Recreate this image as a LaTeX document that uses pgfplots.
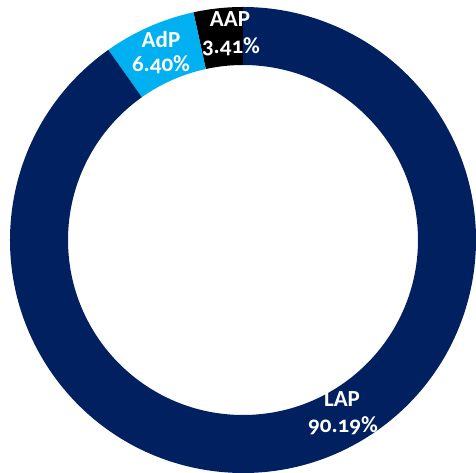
\documentclass[border=0pt]{standalone}
\usepackage{fontspec}
\setmainfont{Carlito}[Numbers=OldStyle]
\usepackage{pgfplots}
\pgfplotsset{compat=1.18}
\definecolor{navy}{HTML}{002060}
\definecolor{lblue}{HTML}{00B0F0}
\begin{document}
\begin{tikzpicture}
\begin{axis}[
  x=1pt, y=1pt, scale only axis,
  xmin=-243, xmax=233, ymin=-233, ymax=240,
  hide axis, clip=false,
]
% values (percent), drawn counter-clockwise from 12 o'clock
\pgfmathsetmacro{\vAAP}{3.41}
\pgfmathsetmacro{\vAdP}{6.40}
\pgfmathsetmacro{\vLAP}{90.19}
\pgfmathsetmacro{\aA}{90}
\pgfmathsetmacro{\aB}{\aA+3.6*\vAAP}
\pgfmathsetmacro{\aC}{\aB+3.6*\vAdP}
\pgfmathsetmacro{\aD}{\aC+3.6*\vLAP}
\def\Ro{233pt}\def\Ri{175pt}
\fill[black, shift={(axis cs:0,0)}] (\aA:\Ro) arc[start angle=\aA, end angle=\aB, radius=\Ro] -- (\aB:\Ri) arc[start angle=\aB, end angle=\aA, radius=\Ri] -- cycle;
\fill[lblue, shift={(axis cs:0,0)}] (\aB:\Ro) arc[start angle=\aB, end angle=\aC, radius=\Ro] -- (\aC:\Ri) arc[start angle=\aC, end angle=\aB, radius=\Ri] -- cycle;
\fill[navy, shift={(axis cs:0,0)}] (\aC:\Ro) arc[start angle=\aC, end angle=\aD, radius=\Ro] -- (\aD:\Ri) arc[start angle=\aD, end angle=\aC, radius=\Ri] -- cycle;
\tikzset{lab/.style={text=white, anchor=base, inner sep=0pt, font=\fontsize{23}{26}\selectfont\bfseries}}
\node[lab] at (axis cs:-13,213) {AAP};
\node[lab] at (axis cs:-12,186) {3.41\%};
\node[lab] at (axis cs:-82,192) {AdP};
\node[lab] at (axis cs:-82,168) {6.40\%};
\node[lab] at (axis cs:99,-167) {LAP};
\node[lab] at (axis cs:100,-193) {90.19\%};
\end{axis}
\pgfresetboundingbox
\path[use as bounding box] (current axis.south west) rectangle (current axis.north east);
\end{tikzpicture}
\end{document}
